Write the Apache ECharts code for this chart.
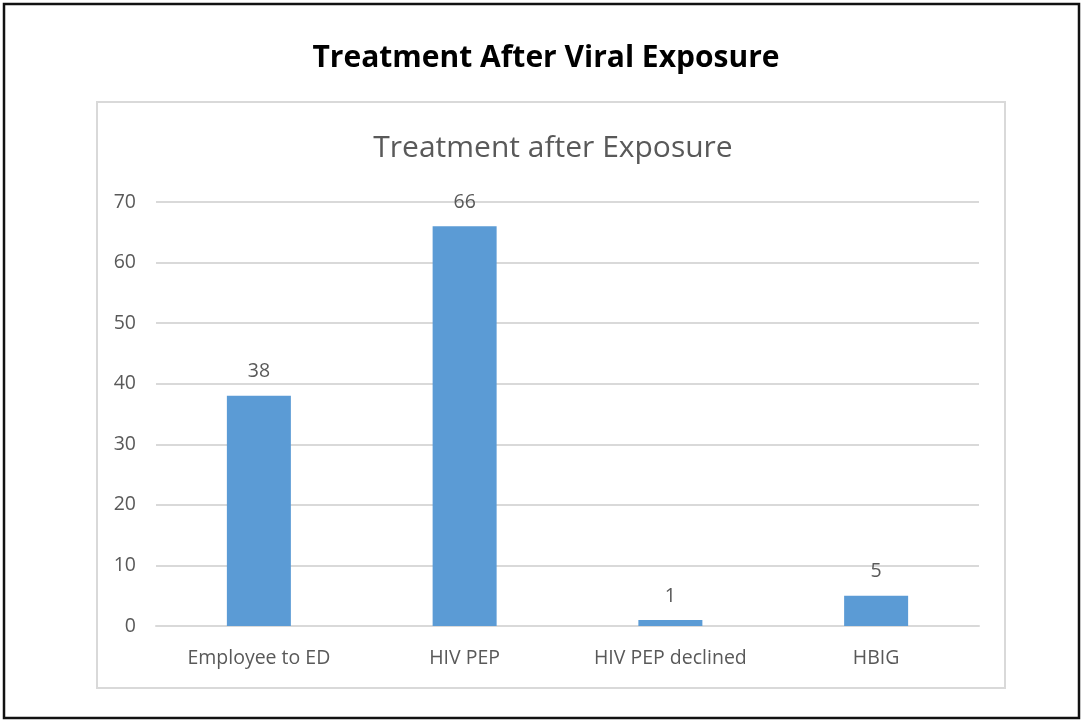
<!DOCTYPE html>
<html><head><meta charset="utf-8">
<script src="https://cdn.jsdelivr.net/npm/echarts@6/dist/echarts.min.js"></script>
<style>html,body{margin:0;padding:0;background:#fff}#c{width:1081px;height:721px}</style>
</head><body><div id="c"></div>
<script>
const categories = ['Employee to ED', 'HIV PEP', 'HIV PEP declined', 'HBIG'];
const values = [38, 66, 1, 5];
const yTicks = [0, 10, 20, 30, 40, 50, 60, 70];
const mainTitle = 'Treatment After Viral Exposure';
const chartTitle = 'Treatment after Exposure';

const chart = echarts.init(document.getElementById('c'), null, {renderer: 'canvas'});
const font = '"Open Sans", "Liberation Sans", sans-serif';
chart.setOption({
  animation: false,
  backgroundColor: '#fff',
  graphic: [
    {type: 'rect', shape: {x: 4, y: 4, width: 1075, height: 714}, style: {fill: 'none', stroke: '#111', lineWidth: 2.5}, silent: true},
    {type: 'rect', shape: {x: 97, y: 102, width: 908, height: 586}, style: {fill: 'none', stroke: '#d9d9d9', lineWidth: 2}, silent: true},
    {type: 'text', x: 546, y: 58, style: {text: mainTitle, fontFamily: font, fontWeight: 'bold', fontSize: 30, fill: '#000', align: 'center', verticalAlign: 'middle'}, silent: true},
    {type: 'text', x: 553, y: 148, style: {text: chartTitle, fontFamily: font, fontWeight: 'normal', fontSize: 30, fill: '#595959', align: 'center', verticalAlign: 'middle'}, silent: true}
  ],
  grid: {left: 156, right: 102, top: 202, bottom: 95, containLabel: false},
  xAxis: {
    type: 'category', data: categories,
    axisLine: {lineStyle: {color: '#d9d9d9', width: 2}},
    axisTick: {show: false},
    axisLabel: {fontFamily: font, fontSize: 19.5, color: '#595959', margin: 22}
  },
  yAxis: {
    type: 'value', min: yTicks[0], max: yTicks[yTicks.length - 1], interval: 10,
    axisLine: {show: false}, axisTick: {show: false},
    splitLine: {lineStyle: {color: '#d9d9d9', width: 2}},
    axisLabel: {fontFamily: font, fontSize: 19.5, color: '#595959', margin: 20}
  },
  series: [{
    type: 'bar', data: values, barWidth: 64,
    itemStyle: {color: '#5b9bd5'},
    label: {show: true, position: 'top', distance: 14, fontFamily: font, fontSize: 19.5, color: '#595959'}
  }]
});
</script></body></html>
